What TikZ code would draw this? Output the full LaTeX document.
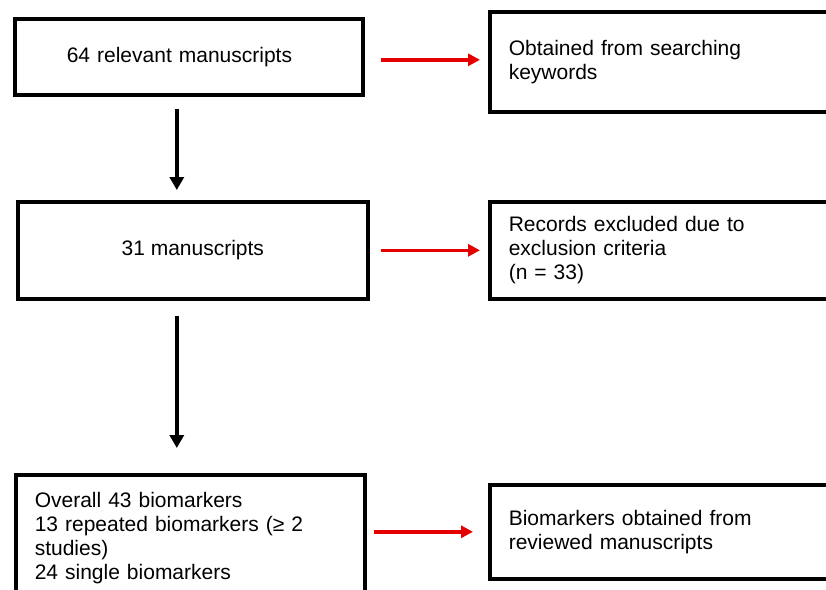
\documentclass[tikz,border=0pt]{standalone}
\usepackage{fontspec}
\setmainfont{Liberation Sans}
\usepackage{tikz}
\usetikzlibrary{arrows.meta,calc}
\definecolor{flowred}{RGB}{228,0,0}

\begin{document}
\begin{tikzpicture}[x=1pt,y=-1pt,
    bx/.style={rectangle,draw=black,line width=3.6pt,anchor=north west,
      font=\fontsize{21}{24}\selectfont},
    lbx/.style={bx,align=left,inner xsep=19pt},
    a/.style={-{Triangle[width=14pt,length=13pt]},line width=3.6pt},
    ra/.style={-{Triangle[width=12pt,length=12pt]},flowred,line width=3.6pt}]
    \useasboundingbox (0,0) rectangle (826,589);
    \clip (0,0) rectangle (826,589);
    \node[bx,align=left,text width=244pt,inner xsep=52pt,minimum height=76pt] (found) at (13,17) {64 relevant manuscripts};
    \node[lbx,text width=340pt,minimum height=100pt] (search) at (488,10) {Obtained from searching\\keywords};
    \node[bx,minimum width=350pt,minimum height=97pt] (kept) at (16,200) {31 manuscripts};
    \node[lbx,text width=340pt,minimum height=97pt] (excl) at (488,200) {Records excluded due to\\exclusion criteria\\(n = 33)};
    \node[lbx,text width=311pt,inner ysep=17pt] (bio) at (14,473) {Overall 43 biomarkers\\13 repeated biomarkers (≥ 2\\studies)\\24 single biomarkers};
    \node[lbx,text width=340pt,minimum height=94pt] (rev) at (488,483) {Biomarkers obtained from\\reviewed manuscripts};
    \draw[a,shorten <=12pt,shorten >=10pt]([xshift=-12pt]found.south)--([xshift=-12pt]found.south |- kept.north);
    \draw[a,shorten <=15pt,shorten >=25pt]([xshift=-16pt]kept.south)--([xshift=-16pt]kept.south |- bio.north);
    \draw[ra,shorten <=16pt,shorten >=8pt]([yshift=-3pt]found.east)--([yshift=-3pt]found.east -| search.west);
    \draw[ra,shorten <=11pt,shorten >=8pt](kept.east)--(kept.east -| excl.west);
    \draw[ra,shorten <=7pt,shorten >=15pt](bio.east |- rev.west)--(rev.west);
  \end{tikzpicture}
\end{document}
